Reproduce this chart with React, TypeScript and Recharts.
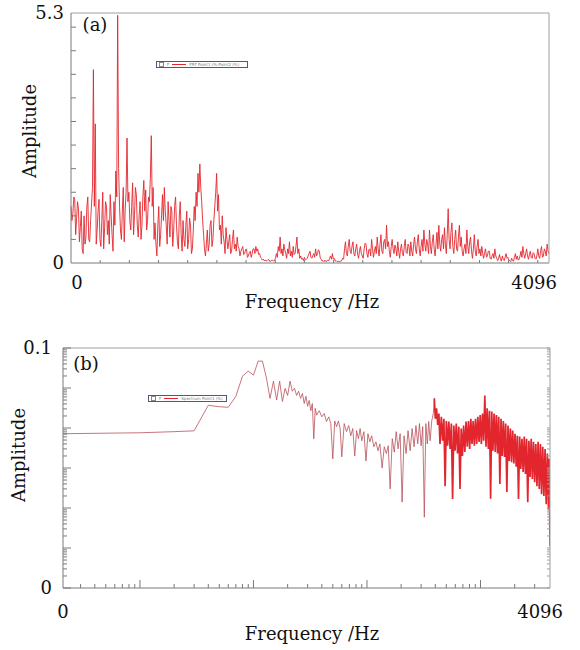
import React from "react"
import { LineChart, Line, XAxis, YAxis, ReferenceLine, Legend } from "recharts"

const SERIF = '"DejaVu Serif", "Liberation Serif", serif'
const RED = "#e3262e"
const THIN_RED = "#b9505a"
const AXIS = "#7a7a7a"
const FRAME = "#a0a0a0"
const INK = "#111"

// (a) FRF amplitude, one reading every 8 Hz from 0 to 4096 Hz
const FREQ_STEP_A = 8
const AMP_A = [
  1.2, 0.9, 1.05, 1.4, 1.35, 0.6, 0.95, 1.3, 1.15, 0.45, 0.75, 1.1, 0.3, 0.2, 1.0, 0.4, 0.55, 1.2, 1.4, 0.5,
  0.45, 0.9, 1.25, 1.6, 4.1, 1.2, 2.95, 0.4, 0.7, 1.1, 1.35, 0.5, 0.35, 0.9, 1.5, 0.3, 0.75, 1.3, 1.2, 0.6,
  0.9, 0.4, 1.45, 1.0, 0.6, 0.25, 1.3, 0.8, 1.95, 1.4, 5.25, 2.0, 1.2, 0.7, 0.5, 1.1, 1.6, 0.45, 1.1, 1.5,
  2.65, 1.3, 1.5, 0.9, 0.7, 1.2, 1.7, 0.6, 1.0, 1.6, 1.45, 0.8, 0.55, 1.0, 1.3, 0.5, 0.8, 1.4, 1.75, 1.1,
  1.55, 0.7, 0.9, 1.4, 1.3, 1.8, 2.7, 1.2, 1.6, 0.5, 0.85, 0.4, 0.15, 0.8, 1.2, 0.35, 0.6, 1.0, 1.45, 0.9,
  1.6, 1.1, 0.8, 0.4, 1.3, 0.9, 0.55, 1.2, 1.1, 0.35, 0.7, 1.2, 1.4, 0.8, 0.45, 0.3, 1.0, 1.3, 0.6, 0.25,
  0.9, 0.5, 0.35, 0.8, 1.1, 0.3, 0.5, 0.95, 0.8, 0.2, 0.3, 0.7, 1.2, 0.9, 1.5, 1.2, 1.9, 1.5, 2.1, 1.6,
  1.3, 0.9, 0.6, 0.3, 0.15, 0.4, 0.7, 0.25, 0.4, 0.8, 0.9, 0.35, 0.5, 0.9, 1.2, 1.5, 1.9, 1.1, 1.45, 0.7,
  0.8, 0.4, 1.0, 0.6, 0.45, 0.2, 0.75, 0.5, 0.3, 0.45, 0.6, 0.2, 0.25, 0.5, 0.7, 0.3, 0.4, 0.25, 0.55, 0.35,
  0.3, 0.15, 0.25, 0.3, 0.35, 0.18, 0.2, 0.28, 0.3, 0.12, 0.15, 0.22, 0.25, 0.12, 0.2, 0.3, 0.3, 0.2, 0.35, 0.25,
  0.3, 0.18, 0.2, 0.12, 0.1, 0.06, 0.08, 0.05, 0.06, 0.04, 0.05, 0.07, 0.07, 0.03, 0.04, 0.06, 0.06, 0.04, 0.05, 0.1,
  0.2, 0.12, 0.35, 0.25, 0.55, 0.2, 0.3, 0.15, 0.4, 0.28, 0.2, 0.1, 0.3, 0.2, 0.45, 0.15, 0.25, 0.12, 0.35, 0.18,
  0.2, 0.35, 0.55, 0.2, 0.3, 0.1, 0.15, 0.08, 0.1, 0.05, 0.12, 0.06, 0.08, 0.1, 0.15, 0.2, 0.25, 0.12, 0.1, 0.15,
  0.2, 0.12, 0.3, 0.15, 0.2, 0.28, 0.25, 0.1, 0.08, 0.04, 0.05, 0.03, 0.06, 0.03, 0.04, 0.06, 0.05, 0.1, 0.15, 0.08,
  0.2, 0.08, 0.1, 0.04, 0.05, 0.03, 0.04, 0.02, 0.03, 0.04, 0.05, 0.1, 0.08, 0.3, 0.45, 0.2, 0.15, 0.35, 0.5, 0.25,
  0.2, 0.35, 0.45, 0.2, 0.15, 0.3, 0.4, 0.18, 0.1, 0.25, 0.35, 0.2, 0.15, 0.1, 0.3, 0.42, 0.4, 0.2, 0.12, 0.28,
  0.3, 0.15, 0.5, 0.3, 0.12, 0.25, 0.35, 0.2, 0.55, 0.3, 0.15, 0.4, 0.6, 0.25, 0.2, 0.45, 0.5, 0.3, 0.8, 0.35,
  0.45, 0.25, 0.12, 0.35, 0.5, 0.3, 0.2, 0.38, 0.3, 0.15, 0.45, 0.25, 0.1, 0.3, 0.4, 0.2, 0.15, 0.35, 0.5, 0.22,
  0.2, 0.4, 0.35, 0.15, 0.45, 0.25, 0.15, 0.4, 0.55, 0.3, 0.2, 0.45, 0.6, 0.3, 0.15, 0.35, 0.5, 0.25, 0.7, 0.4,
  0.25, 0.5, 0.4, 0.2, 0.7, 0.35, 0.2, 0.45, 0.6, 0.3, 0.15, 0.4, 0.65, 0.3, 0.8, 0.4, 0.25, 0.5, 0.6, 0.3,
  0.75, 0.4, 0.2, 0.6, 1.15, 0.5, 0.3, 0.65, 0.85, 0.35, 0.2, 0.5, 0.7, 0.3, 0.25, 0.55, 0.8, 0.35, 0.55, 0.25,
  0.15, 0.3, 0.4, 0.2, 0.7, 0.35, 0.2, 0.45, 0.55, 0.25, 0.1, 0.3, 0.6, 0.25, 0.15, 0.35, 0.5, 0.2, 0.3, 0.15,
  0.35, 0.2, 0.1, 0.22, 0.3, 0.12, 0.15, 0.25, 0.25, 0.1, 0.08, 0.15, 0.2, 0.1, 0.3, 0.15, 0.1, 0.05, 0.1, 0.18,
  0.08, 0.04, 0.15, 0.08, 0.05, 0.12, 0.2, 0.1, 0.12, 0.06, 0.05, 0.03, 0.1, 0.05, 0.04, 0.12, 0.2, 0.08, 0.15, 0.06,
  0.08, 0.15, 0.25, 0.12, 0.35, 0.2, 0.1, 0.2, 0.3, 0.15, 0.08, 0.18, 0.25, 0.12, 0.1, 0.22, 0.2, 0.1, 0.08, 0.15,
  0.3, 0.15, 0.1, 0.25, 0.35, 0.12, 0.15, 0.3, 0.25, 0.15, 0.4, 0.25, 0.2,
]
const A_Y_TICKS = [0, 0.5, 1, 1.5, 2, 2.5, 3, 3.5, 4, 4.5, 5, 5.3]
const A_Y_RIGHT_TICKS = [
  0.25, 0.5, 0.75, 1, 1.25, 1.5, 1.75, 2, 2.25, 2.5, 2.75,
  3, 3.25, 3.5, 3.75, 4, 4.25, 4.5, 4.75, 5, 5.25,
]
const A_X_TICKS = [
  0, 250, 500, 750, 1000, 1250, 1500, 1750, 2000, 2250, 2500,
  2750, 3000, 3250, 3500, 3750, 4000, 4096,
]

// (b) spectrum on log-log axes: [frequency Hz, amplitude]
const SPECTRUM_B: [number, number][] = [
  [0.21, 7.2e-4], [1, 7.6e-4], [2, 8.1e-4], [3, 8.5e-4], [4, 3.7e-3],
  [5, 3.4e-3], [6, 3.3e-3], [7, 6.2e-3], [8, 0.0197], [9, 0.0264],
  [10, 0.021], [11, 0.047], [12, 0.047], [13, 0.018], [14, 0.0055],
  [15, 0.0148], [16, 0.005], [17, 0.0148], [18, 0.0046], [19, 0.0098],
  [20, 0.0065], [21, 0.0148], [22, 0.0083], [23, 0.0098], [24, 0.0065],
  [25, 0.0083], [26, 0.0055], [27, 0.0073], [28, 0.0041], [29, 0.0062],
  [30, 0.0035], [31, 0.0049], [32, 0.0027], [33, 0.0041], [34, 0.00054],
  [35, 0.0031], [36, 0.0021], [38, 0.0027], [40, 0.0019], [42, 0.0023],
  [44, 0.00145], [46, 0.0019], [48, 0.00129], [50, 0.00017], [52, 0.0015],
  [54, 0.00108], [56, 0.0015], [58, 0.00097], [60, 0.00019], [63, 0.00129],
  [66, 0.00081], [69, 0.00115], [72, 0.00064], [75, 0.00097], [78, 0.0002],
  [81, 0.00086], [84, 0.00054], [87, 0.00097], [90, 0.00048], [94, 0.00081],
  [98, 0.00015], [102, 0.00072], [106, 0.00045], [110, 0.00064], [115, 0.00034],
  [120, 0.00045], [125, 0.00027], [130, 0.0004], [136, 0.0001], [142, 0.00034],
  [148, 0.00023], [154, 0.00036], [160, 0.00003], [167, 0.00054], [174, 0.00025],
  [181, 0.00081], [188, 0.0003], [196, 0.00072], [204, 0.000014], [212, 0.00064],
  [221, 0.00023], [230, 0.00086], [240, 0.00027], [250, 0.00097], [260, 0.00034],
  [270, 0.00115], [280, 0.0004], [290, 0.00129], [300, 0.00036], [310, 0.00108],
  [320, 0.0000059], [330, 0.00129], [340, 0.0004], [350, 0.00145], [360, 0.00048],
  [372, 0.0015], [384, 0.0023], [392, 0.0055], [400, 0.0017], [410, 0.0031],
  [420, 0.0012], [430, 0.0023], [440, 0.0004], [452, 0.0019], [464, 0.00048],
  [476, 0.0017], [488, 0.000035], [500, 0.0015], [513, 0.00036], [526, 0.00145],
  [540, 0.0003], [554, 0.00129], [568, 0.0000167], [582, 0.00115], [597, 0.00027],
  [612, 0.00129], [628, 0.00023], [644, 0.00108], [660, 0.00003], [676, 0.00097],
  [693, 0.0002], [710, 0.00115], [728, 0.00025], [746, 0.00145], [765, 0.00034],
  [784, 0.0015], [803, 0.0003], [822, 0.0017], [842, 0.0004], [862, 0.0015],
  [883, 0.00036], [904, 0.0017], [926, 0.0004], [948, 0.0019], [971, 0.00045],
  [994, 0.0021], [1018, 0.0004], [1042, 0.0023], [1067, 0.00048], [1092, 0.0065],
  [1118, 0.00034], [1145, 0.0031], [1172, 0.0003], [1200, 0.0027], [1228, 0.000017],
  [1257, 0.0026], [1287, 0.00027], [1318, 0.0023], [1349, 0.00025], [1381, 0.0021],
  [1414, 0.00023], [1448, 0.0019], [1482, 0.00004], [1517, 0.0017], [1553, 0.0002],
  [1590, 0.0015], [1628, 0.00019], [1667, 0.00129], [1707, 0.000025], [1748, 0.00115],
  [1790, 0.00015], [1833, 0.00097], [1877, 0.00014], [1922, 0.00086], [1968, 0.00013],
  [2015, 0.00072], [2063, 0.000107], [2112, 0.00064], [2162, 0.0000167], [2213, 0.00061],
  [2266, 0.000095], [2320, 0.00054], [2375, 0.00008], [2431, 0.00061], [2489, 0.000071],
  [2548, 0.00054], [2608, 0.000014], [2670, 0.00048], [2733, 0.00006], [2798, 0.00054],
  [2864, 0.000053], [2932, 0.00045], [3001, 0.000044], [3072, 0.0004], [3145, 0.000035],
  [3219, 0.00045], [3295, 0.00003], [3373, 0.0004], [3453, 0.000022], [3535, 0.00034],
  [3619, 0.00002], [3705, 0.0003], [3792, 0.0000125], [3882, 0.00023], [3974, 0.0000093],
  [4030, 0.00017], [4070, 0.0000059], [4096, 0.0000011],
]
// above this frequency the trace is dense enough to read as a solid band
const DENSE_FROM = 392

const B_X_MAJOR = [1, 10, 100, 1000]
const B_X_TICKS = [
  0.21, 0.3, 0.4, 0.5, 0.6, 0.7, 0.8, 0.9, 1, 2, 3, 4, 5, 6, 7, 8, 9,
  10, 20, 30, 40, 50, 60, 70, 80, 90, 100, 200, 300, 400, 500, 600, 700,
  800, 900, 1000, 2000, 3000, 4096,
]
const B_Y_MAJOR = [1e-7, 1e-6, 1e-5, 1e-4, 1e-3, 1e-2, 1e-1]
const B_Y_TICKS = B_Y_MAJOR.flatMap((d, i) =>
  i === B_Y_MAJOR.length - 1 ? [d] : [1, 2, 3, 4, 5, 6, 7, 8, 9].map((k) => k * d)
)

// plot box edges inside each chart
const A_LEFT = 71
const A_RIGHT = 549
const A_BOTTOM = 263
const B_LEFT = 63
const B_RIGHT = 550
const B_BOTTOM = 268

const tickText = { fontFamily: SERIF, fontSize: 18, fill: INK }

function AYTick({ y, payload }: any) {
  const v = payload.value
  return (
    <g>
      {v !== 5.3 && v !== 0 && (
        <line x1={A_LEFT} x2={A_LEFT + 5} y1={y} y2={y} stroke={AXIS} />
      )}
      {(v === 0 || v === 5.3) && (
        <text x={A_LEFT - 7} y={y} dy="0.36em" textAnchor="end" {...tickText}>
          {v === 0 ? "0" : "5.3"}
        </text>
      )}
    </g>
  )
}

function AYRightTick({ y }: any) {
  return <line x1={A_RIGHT - 3} x2={A_RIGHT} y1={y} y2={y} stroke={FRAME} />
}

function AXTick({ x, payload }: any) {
  const v = payload.value
  if (v === 0)
    return (
      <text x={x + 6} y={A_BOTTOM + 20} dy="0.36em" textAnchor="middle" {...tickText}>
        0
      </text>
    )
  if (v === 4096)
    return (
      <text x={x + 8} y={A_BOTTOM + 20} dy="0.36em" textAnchor="end" {...tickText}>
        4096
      </text>
    )
  return <line x1={x} x2={x} y1={A_BOTTOM} y2={A_BOTTOM - 3} stroke={AXIS} />
}

function BXTick({ x, payload }: any) {
  const v = payload.value
  if (v === 0.21)
    return (
      <text x={x} y={B_BOTTOM + 24} dy="0.36em" textAnchor="middle" {...tickText}>
        0
      </text>
    )
  if (v === 4096)
    return (
      <text x={x + 13} y={B_BOTTOM + 24} dy="0.36em" textAnchor="end" {...tickText}>
        4096
      </text>
    )
  const len = B_X_MAJOR.includes(v) ? 8 : 4
  return <line x1={x} x2={x} y1={B_BOTTOM} y2={B_BOTTOM - len} stroke={AXIS} />
}

function BYTick({ y, payload }: any) {
  const v = payload.value
  const major = B_Y_MAJOR.includes(v)
  return (
    <g>
      <line x1={B_LEFT} x2={B_LEFT + (major ? 8 : 4)} y1={y} y2={y} stroke={AXIS} />
      {(v === 1e-7 || v === 0.1) && (
        <text x={B_LEFT - 11} y={y} dy="0.36em" textAnchor="end" {...tickText}>
          {v === 0.1 ? "0.1" : "0"}
        </text>
      )}
    </g>
  )
}

function BYRightTick({ y }: any) {
  return <line x1={B_RIGHT - 3} x2={B_RIGHT} y1={y} y2={y} stroke={FRAME} />
}

function MiniLegend({ text, width }: { text: string; width: number }) {
  return (
    <div
      style={{
        width,
        height: 7,
        boxSizing: "border-box",
        border: "1px solid #55557f",
        background: "#fff",
        display: "flex",
        alignItems: "center",
        gap: 3,
        padding: "0 2px",
        fontFamily: '"DejaVu Sans", sans-serif',
        fontSize: 4,
        lineHeight: 1,
        color: "#777",
        whiteSpace: "nowrap",
        overflow: "hidden",
      }}
    >
      <span style={{ width: 3, height: 3, border: "1px solid #888" }} />
      <span>F</span>
      <span style={{ width: 14, height: 1, background: RED }} />
      <span>{text}</span>
    </div>
  )
}

function Caption({ x, y, children, rotate }: any) {
  return (
    <div
      style={{
        position: "absolute",
        left: x,
        top: y,
        transform: `translate(-50%, -50%)${rotate ? " rotate(-90deg)" : ""}`,
        fontFamily: SERIF,
        fontSize: 18,
        lineHeight: 1,
        color: INK,
        whiteSpace: "nowrap",
      }}
    >
      {children}
    </div>
  )
}

export default function App() {
  const dataA = AMP_A.map((a, i) => ({ f: i * FREQ_STEP_A, a }))
  const dataB = SPECTRUM_B.map(([f, a]) => ({
    f,
    thin: f <= DENSE_FROM ? a : undefined,
    dense: f >= DENSE_FROM ? a : undefined,
  }))

  return (
    <div style={{ position: "relative", width: 580, height: 650, background: "#fff" }}>
      <style>{"body{margin:0}"}</style>

      <div style={{ position: "absolute", left: 0, top: 0 }}>
        <LineChart width={580} height={320} data={dataA} margin={{ top: 13, right: 30, bottom: 0, left: 8 }}>
          <XAxis
            type="number"
            dataKey="f"
            domain={[0, 4096]}
            ticks={A_X_TICKS}
            interval={0}
            height={57}
            axisLine={{ stroke: AXIS }}
            tickLine={false}
            tick={AXTick}
          />
          <YAxis
            type="number"
            domain={[0, 5.3]}
            ticks={A_Y_TICKS}
            interval={0}
            width={63}
            axisLine={{ stroke: AXIS }}
            tickLine={false}
            tick={AYTick}
          />
          <YAxis
            yAxisId="r"
            orientation="right"
            type="number"
            domain={[0, 5.3]}
            ticks={A_Y_RIGHT_TICKS}
            interval={0}
            width={1}
            axisLine={{ stroke: FRAME }}
            tickLine={false}
            tick={AYRightTick}
          />
          <ReferenceLine y={5.3} stroke={FRAME} />
          <Legend
            verticalAlign="middle"
            align="center"
            wrapperStyle={{ left: 156, top: 61, width: "auto" }}
            content={() => <MiniLegend text="FRF Point1 (%-Point2 (%)" width={92} />}
          />
          <Line
            type="linear"
            dataKey="a"
            name="FRF Point1"
            stroke={RED}
            strokeWidth={0.9}
            dot={false}
            isAnimationActive={false}
          />
        </LineChart>
      </div>

      <div style={{ position: "absolute", left: 0, top: 320 }}>
        <LineChart width={580} height={330} data={dataB} margin={{ top: 28, right: 29, bottom: 0, left: 8 }}>
          <XAxis
            type="number"
            dataKey="f"
            scale="log"
            domain={[0.21, 4096]}
            allowDataOverflow
            ticks={B_X_TICKS}
            interval={0}
            height={62}
            axisLine={{ stroke: AXIS }}
            tickLine={false}
            tick={BXTick}
          />
          <YAxis
            type="number"
            scale="log"
            domain={[1e-7, 0.1]}
            allowDataOverflow
            ticks={B_Y_TICKS}
            interval={0}
            width={55}
            axisLine={{ stroke: AXIS }}
            tickLine={false}
            tick={BYTick}
          />
          <YAxis
            yAxisId="r"
            orientation="right"
            type="number"
            scale="log"
            domain={[1e-7, 0.1]}
            allowDataOverflow
            ticks={B_Y_TICKS}
            interval={0}
            width={1}
            axisLine={{ stroke: FRAME }}
            tickLine={false}
            tick={BYRightTick}
          />
          <ReferenceLine y={0.1} stroke={FRAME} />
          <Legend
            verticalAlign="middle"
            align="center"
            wrapperStyle={{ left: 148, top: 75, width: "auto" }}
            content={() => <MiniLegend text="Spectrum Point1 (%)" width={79} />}
          />
          <Line
            type="linear"
            dataKey="thin"
            name="Spectrum Point1"
            stroke={THIN_RED}
            strokeWidth={0.8}
            dot={false}
            isAnimationActive={false}
          />
          <Line
            type="linear"
            dataKey="dense"
            name="Spectrum Point1 (dense)"
            legendType="none"
            stroke={RED}
            strokeWidth={1.7}
            dot={false}
            isAnimationActive={false}
          />
        </LineChart>
      </div>

      <Caption x={95} y={25}>(a)</Caption>
      <Caption x={30} y={131} rotate>Amplitude</Caption>
      <Caption x={312} y={302}>Frequency /Hz</Caption>
      <Caption x={86} y={364}>(b)</Caption>
      <Caption x={19} y={455} rotate>Amplitude</Caption>
      <Caption x={312} y={634}>Frequency /Hz</Caption>
    </div>
  )
}
